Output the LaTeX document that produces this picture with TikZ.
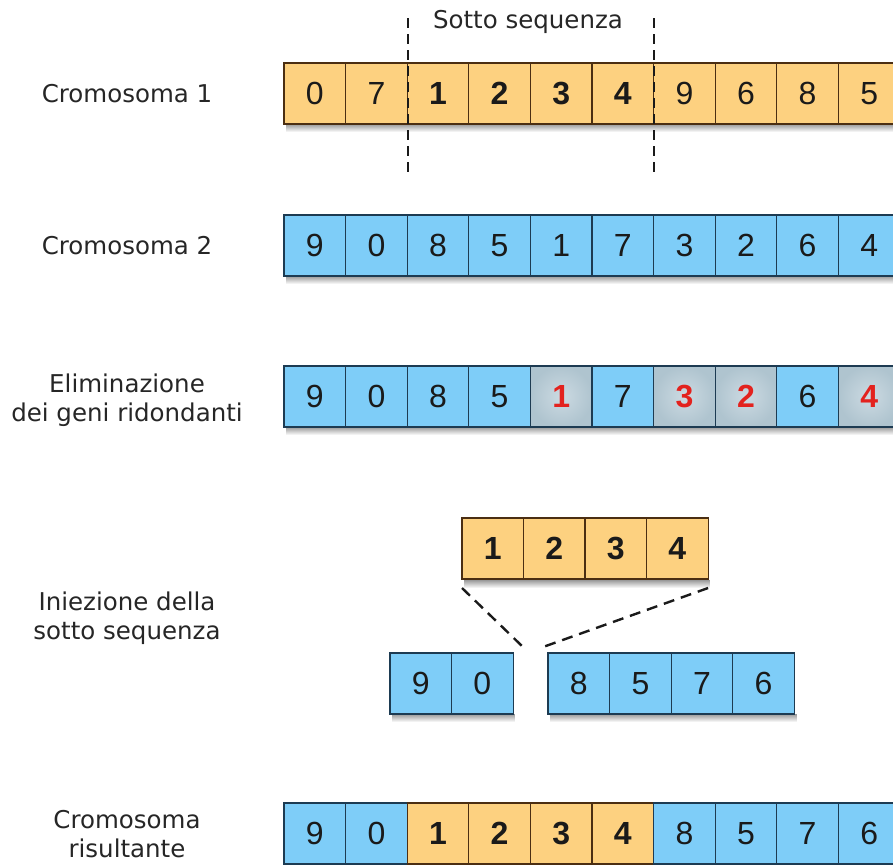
\documentclass[tikz,border=0pt]{standalone}
\usepackage{fontspec}
\setmainfont{DejaVu Sans}
\newfontfamily\digitfamily{Liberation Sans}
\usetikzlibrary{fadings}

\definecolor{orfill}{HTML}{FDD180}
\definecolor{orline}{HTML}{4B2E12}
\definecolor{blfill}{HTML}{7ECDF8}
\definecolor{blline}{HTML}{1D3B52}
\definecolor{gonein}{HTML}{CCDAE2}
\definecolor{goneout}{HTML}{AFC4CF}
\definecolor{ink}{HTML}{1A1A1A}
\definecolor{labelink}{HTML}{262626}
\definecolor{dropred}{HTML}{E3221E}

\newcommand{\labelsize}{\fontsize{24.5}{29}\selectfont}
\newcommand{\digitsize}{\digitfamily\fontsize{32}{38}\selectfont}

\tikzset{
  gene/.style={minimum width=61.6pt, minimum height=61pt, inner sep=0pt,
    outer sep=0pt, anchor=north west, line width=1.2pt, text=ink, font=\digitsize},
  org/.style={gene, fill=orfill, draw=orline},
  orgb/.style={org, font=\digitsize\bfseries},
  blu/.style={gene, fill=blfill, draw=blline},
  gone/.style={gene, draw=blline, inner color=gonein, outer color=goneout,
    text=dropred, font=\digitsize\bfseries},
  rowlabel/.style={align=center, font=\labelsize, text=labelink, inner sep=0pt},
  cut/.style={draw=ink, line width=2.2pt, dash pattern=on 10pt off 6pt},
  link/.style={draw=ink, line width=2.4pt, dash pattern=on 11pt off 7pt},
  shade/.style={fill=black, opacity=0.4, path fading=south}
}

\begin{document}
\begin{tikzpicture}[x=1pt, y=-1pt]
  \useasboundingbox (0,0) rectangle (893,865);
  \clip (0,0) rectangle (893,865);

  % soft shadows under every strip of genes
  \fill[shade] (286,124) rectangle (900,132);
  \fill[shade] (286,276) rectangle (900,284);
  \fill[shade] (286,427) rectangle (900,435);
  \fill[shade] (464,580) rectangle (710,588);
  \fill[shade] (392,714) rectangle (515,722);
  \fill[shade] (550,714) rectangle (797,722);

  % row labels
  \node[rowlabel] (lab1) at (127,94)  {Cromosoma 1};
  \node[rowlabel] (lab2) at (127,246) {Cromosoma 2};
  \node[rowlabel] (lab3) at (127,400) {Eliminazione\\dei geni ridondanti};
  \node[rowlabel] (lab4) at (127,618) {Iniezione della\\sotto sequenza};
  \node[rowlabel] (lab5) at (127,834) {Cromosoma\\risultante};
  \node[rowlabel] (sub)  at (528,22)  {Sotto sequenza};

  % chromosome 1
  \foreach \v/\s [count=\i from 0] in
    {0/org,7/org,1/orgb,2/orgb,3/orgb,4/orgb,9/org,6/org,8/org,5/org}
    \node[\s] (ca\i) at (284+61.6*\i,63) {\v};

  % chromosome 2
  \foreach \v [count=\i from 0] in {9,0,8,5,1,7,3,2,6,4}
    \node[blu] (cb\i) at (284+61.6*\i,215) {\v};

  % redundant genes removed
  \foreach \v/\s [count=\i from 0] in
    {9/blu,0/blu,8/blu,5/blu,1/gone,7/blu,3/gone,2/gone,6/blu,4/gone}
    \node[\s] (cc\i) at (284+61.6*\i,366) {\v};

  % sub-sequence to insert
  \foreach \v [count=\i from 0] in {1,2,3,4}
    \node[orgb] (ins\i) at (462+61.5*\i,518) {\v};

  % chromosome 2 split open
  \foreach \v [count=\i from 0] in {9,0}
    \node[blu] (hl\i) at (390+61.5*\i,653) {\v};
  \foreach \v [count=\i from 0] in {8,5,7,6}
    \node[blu] (hr\i) at (548+61.6*\i,653) {\v};

  % resulting chromosome
  \foreach \v/\s [count=\i from 0] in
    {9/blu,0/blu,1/orgb,2/orgb,3/orgb,4/orgb,8/blu,5/blu,7/blu,6/blu}
    \node[\s] (cd\i) at (284+61.6*\i,803) {\v};

  % cut marks around the sub-sequence
  \coordinate (cutTopL) at (408,18);
  \coordinate (cutBotL) at (408,177);
  \coordinate (cutTopR) at (654,18);
  \coordinate (cutBotR) at (654,177);
  \draw[cut] (cutTopL) -- (cutBotL);
  \draw[cut] (cutTopR) -- (cutBotR);

  % insertion point
  \coordinate (gapL) at (523,647);
  \coordinate (gapR) at (543,647);
  \draw[link] ([yshift=-9pt]ins0.south west) -- (gapL);
  \draw[link] ([yshift=-9pt]ins3.south east) -- (gapR);
\end{tikzpicture}
\end{document}
